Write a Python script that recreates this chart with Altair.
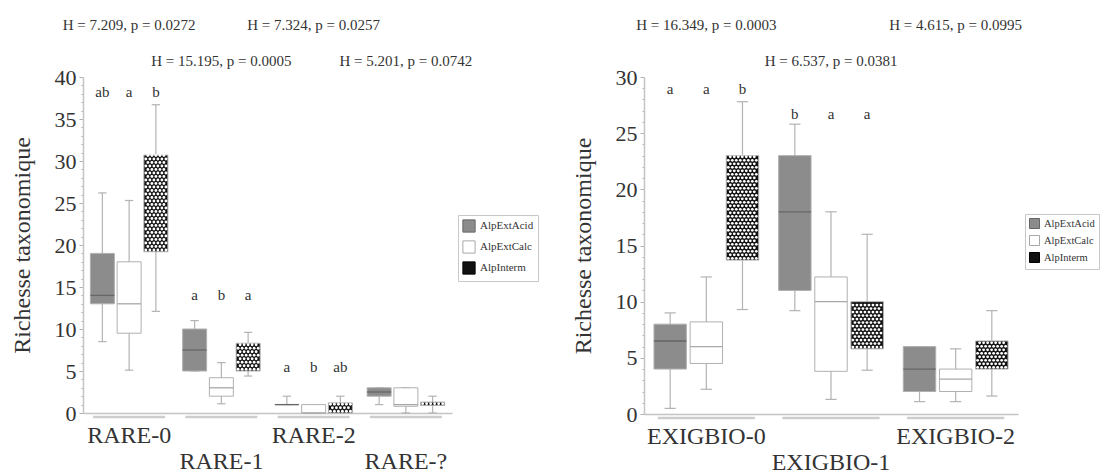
import altair as alt
import pandas as pd

FONT = "Liberation Serif"
TXT = "#333333"

series = ["AlpExtAcid", "AlpExtCalc", "AlpInterm"]

# ---- left panel (RARE) : per group [AlpExtAcid, AlpExtCalc, AlpInterm]
rare_groups = ["RARE-0", "RARE-1", "RARE-2", "RARE-?"]
rare_min = [[8.5, 5.1, 12.1], [5.0, 1.1, 4.4], [1.0, 0.0, 0.0], [1.0, 0.0, 0.0]]
rare_q1 = [[13.0, 9.5, 19.2], [5.0, 2.0, 5.0], [1.0, 0.0, 0.0], [2.0, 0.8, 0.9]]
rare_med = [[14.0, 13.0, 25.0], [7.5, 3.0, 6.5], [1.0, 0.0, 1.0], [2.5, 1.0, 1.0]]
rare_q3 = [[19.0, 18.0, 30.7], [10.0, 4.2, 8.3], [1.0, 1.0, 1.2], [3.0, 3.0, 1.3]]
rare_max = [[26.2, 25.3, 36.7], [11.0, 6.0, 9.6], [2.0, 1.0, 2.0], [3.0, 3.0, 2.0]]
rare_letters = [["ab", "a", "b"], ["a", "b", "a"], ["a", "b", "ab"], ["", "", ""]]
rare_letter_y = [38.2, 14.0, 5.5, 0.0]
rare_tests = ["H = 7.209, p = 0.0272", "H = 15.195, p = 0.0005",
              "H = 7.324, p = 0.0257", "H = 5.201, p = 0.0742"]

# ---- right panel (EXIGBIO)
exig_groups = ["EXIGBIO-0", "EXIGBIO-1", "EXIGBIO-2"]
exig_min = [[0.5, 2.2, 9.3], [9.2, 1.3, 3.9], [1.1, 1.1, 1.6]]
exig_q1 = [[4.0, 4.5, 13.7], [11.0, 3.8, 5.8], [2.0, 2.0, 4.0]]
exig_med = [[6.5, 6.0, 18.0], [18.0, 10.0, 8.0], [4.0, 3.1, 5.0]]
exig_q3 = [[8.0, 8.2, 23.0], [23.0, 12.2, 10.0], [6.0, 4.0, 6.5]]
exig_max = [[9.0, 12.2, 27.8], [25.8, 18.0, 16.0], [6.0, 5.8, 9.2]]
exig_letters = [["a", "a", "b"], ["b", "a", "a"], ["", "", ""]]
exig_letter_y = [28.9, 26.7, 0.0]
exig_tests = ["H = 16.349, p = 0.0003", "H = 6.537, p = 0.0381",
              "H = 4.615, p = 0.0995"]


def panel(groups, mins, q1s, meds, q3s, maxs, letters, letter_y, tests,
          ymax, w, h, dx, dy, lx, ly, sym, lfs, rowpad):
    rows = []
    for gi, g in enumerate(groups):
        for si, s in enumerate(series):
            rows.append(dict(group=g, gi=gi, series=s, si=si,
                             lo=mins[gi][si], q1=q1s[gi][si], med=meds[gi][si],
                             q3=q3s[gi][si], hi=maxs[gi][si],
                             letter=letters[gi][si], ly=letter_y[gi]))
    box = pd.DataFrame(rows)
    gdf = pd.DataFrame(dict(group=groups, gi=list(range(len(groups))), test=tests))
    n = len(groups)

    xs = alt.Scale(domain=[0, n], nice=False, zero=False)
    ysc = alt.Scale(domain=[0, ymax], nice=False, zero=False)
    xaxis = alt.Axis(labels=False, ticks=False, grid=False, domainColor="#c4c4c4",
                     domainWidth=1.5)
    yaxis = alt.Axis(values=list(range(0, ymax + 1)),
                     labelExpr="datum.value % 5 === 0 ? datum.label : ''",
                     tickSize={"condition": {"test": "datum.value % 5 === 0", "value": 4},
                               "value": 2},
                     tickColor="#b0b0b0", domainColor="#c4c4c4", domainWidth=1.5,
                     grid=False, labelPadding=3, titlePadding=20)

    def X(f):
        return alt.X(f"{f}:Q", scale=xs, axis=xaxis, title=None)

    def Y(f):
        return alt.Y(f"{f}:Q", scale=ysc, axis=yaxis, title="Richesse taxonomique")

    base = alt.Chart(box).transform_calculate(
        xc="datum.gi + 0.5 + (datum.si - 1) * 0.29",
    ).transform_calculate(
        xl="datum.xc - 0.13", xr="datum.xc + 0.13",
        cl="datum.xc - 0.045", cr="datum.xc + 0.045",
    )

    whisk = base.mark_rule(color="#b3b3b3", strokeWidth=1.2).encode(
        x=X("xc"), y=Y("lo"), y2="hi")
    cap_lo = base.mark_rule(color="#b3b3b3", strokeWidth=1.2).encode(
        x=X("cl"), x2="cr", y=Y("lo"))
    cap_hi = base.mark_rule(color="#b3b3b3", strokeWidth=1.2).encode(
        x=X("cl"), x2="cr", y=Y("hi"))

    boxes = base.mark_rect(stroke="#b0b0b0", strokeWidth=1).encode(
        x=X("xl"), x2="xr", y=Y("q1"), y2="q3",
        fill=alt.Fill("series:N", title=None,
                      scale=alt.Scale(domain=series, range=["#8c8c8c", "#ffffff", "#111111"]),
                      legend=alt.Legend(orient="none", legendX=lx, legendY=ly,
                                        direction="vertical", symbolType="square",
                                        symbolSize=sym, symbolStrokeColor="#9a9a9a",
                                        symbolStrokeWidth=1, labelFont=FONT,
                                        labelFontSize=lfs, labelColor=TXT,
                                        fillColor="white", strokeColor="#c8c8c8",
                                        padding=4, rowPadding=rowpad)))

    dots = base.transform_filter("datum.si == 2").transform_calculate(
        ys=f"sequence(datum.q1 + {dy / 2}, datum.q3, {dy})"
    ).transform_flatten(["ys"]).transform_calculate(
        r=f"round((datum.ys - datum.q1 - {dy / 2}) / {dy})"
    ).transform_calculate(
        xsq=f"sequence(datum.xl + {dx} * (0.5 + 0.5 * (datum.r % 2)), datum.xr - {dx * 0.3}, {dx})"
    ).transform_flatten(["xsq"]).mark_circle(size=8, color="white", opacity=1).encode(
        x=X("xsq"), y=Y("ys"))

    med = base.transform_filter("datum.si < 2").mark_rule(strokeWidth=1.3).encode(
        x=X("xl"), x2="xr", y=Y("med"),
        color=alt.Color("series:N", legend=None,
                        scale=alt.Scale(domain=series, range=["#666666", "#a8a8a8", "#000000"])))

    lett = base.transform_filter("datum.letter != ''").mark_text(
        font=FONT, fontSize=15, color=TXT).encode(x=X("xc"), y=Y("ly"), text="letter:N")

    g = alt.Chart(gdf).transform_calculate(
        gx="datum.gi + 0.5", ga="datum.gi + 0.11", gb="datum.gi + 0.89")
    under = g.mark_rule(color="#cdcdcd", strokeWidth=2.5).encode(
        x=X("ga"), x2="gb", y=alt.value(h + 4))
    lab0 = g.transform_filter("datum.gi % 2 == 0").mark_text(
        font=FONT, fontSize=24, color=TXT).encode(x=X("gx"), y=alt.value(h + 23), text="group:N")
    lab1 = g.transform_filter("datum.gi % 2 == 1").mark_text(
        font=FONT, fontSize=24, color=TXT).encode(x=X("gx"), y=alt.value(h + 49), text="group:N")
    t0 = g.transform_filter("datum.gi % 2 == 0").mark_text(
        font=FONT, fontSize=15, color=TXT).encode(x=X("gx"), y=alt.value(-52), text="test:N")
    t1 = g.transform_filter("datum.gi % 2 == 1").mark_text(
        font=FONT, fontSize=15, color=TXT).encode(x=X("gx"), y=alt.value(-16), text="test:N")

    return alt.layer(whisk, cap_lo, cap_hi, boxes, dots, med, lett,
                     under, lab0, lab1, t0, t1).properties(width=w, height=h)


left = panel(rare_groups, rare_min, rare_q1, rare_med, rare_q3, rare_max,
             rare_letters, rare_letter_y, rare_tests,
             40, 369, 336, 0.0434, 3.5 / 8.4, 375, 138, 150, 11, 3)
right = panel(exig_groups, exig_min, exig_q1, exig_med, exig_q3, exig_max,
              exig_letters, exig_letter_y, exig_tests,
              30, 374, 337, 0.0321, 3.5 / 11.23, 381, 137, 100, 10.5, 2)

chart = alt.hconcat(left, right, spacing=32).resolve_scale(
    fill="independent", color="independent", x="independent", y="independent"
).resolve_legend(fill="independent").properties(
    padding={"left": 2, "top": 10, "right": 0, "bottom": 0}
).configure_view(stroke=None).configure_axis(
    labelFont=FONT, titleFont=FONT, labelColor=TXT, titleColor=TXT,
    labelFontSize=22, titleFontSize=24, titleFontWeight="normal"
)

chart.save("out.html", embed_options={"renderer": "svg", "actions": False})
